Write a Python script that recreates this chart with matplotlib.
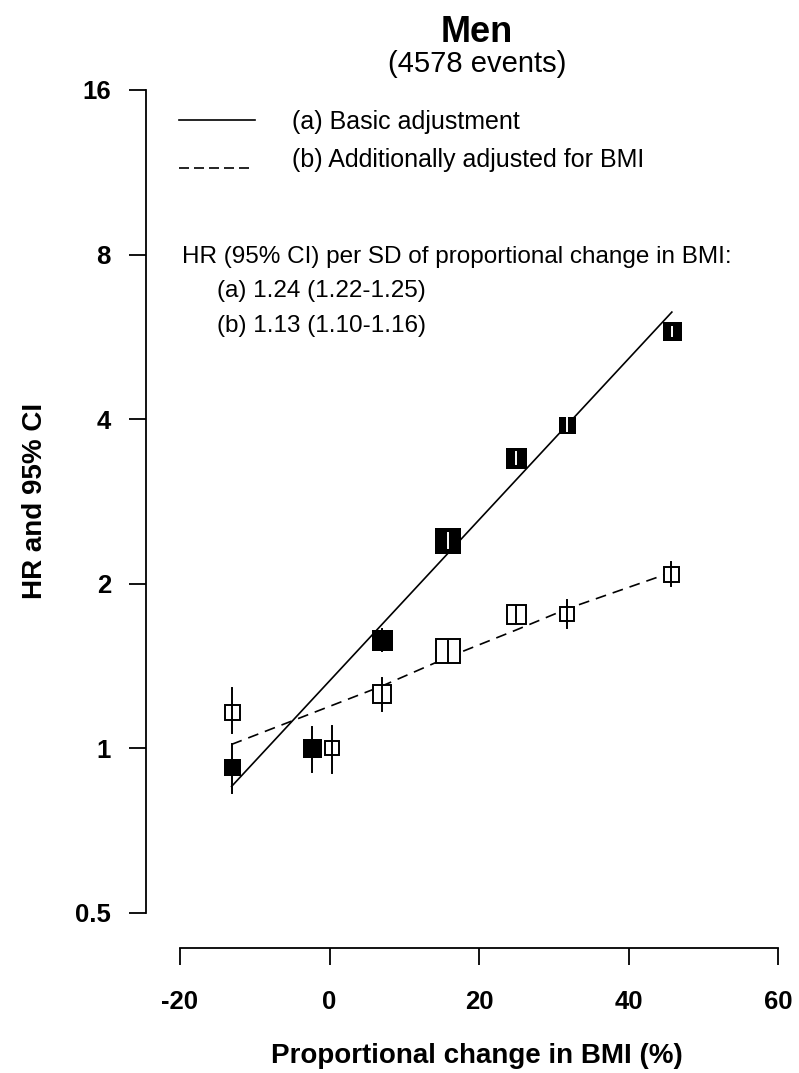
import matplotlib
matplotlib.use("Agg")
import matplotlib.pyplot as plt
import numpy as np

plt.rcParams['font.family'] = ['Liberation Sans', 'DejaVu Sans']
plt.rcParams['axes.unicode_minus'] = False

# ---- data ----
x_a = [-13.1, -2.3, 7.0, 15.8, 24.9, 31.8, 45.8]
hr_a = [0.923, 1.0, 1.58, 2.39, 3.39, 3.90, 5.80]
lo_a = [0.83, 0.904, 1.51, 2.33, 3.31, 3.80, 5.67]
hi_a = [1.02, 1.093, 1.65, 2.48, 3.48, 4.02, 5.89]
size_a = [17, 19, 21, 27, 21, 17, 19]   # box width (px)

x_b = [-13.1, 0.3, 7.0, 15.8, 24.9, 31.8, 45.7]
hr_b = [1.168, 1.0, 1.255, 1.505, 1.76, 1.76, 2.08]
lo_b = [1.065, 0.90, 1.169, 1.44, 1.70, 1.658, 1.98]
hi_b = [1.288, 1.10, 1.343, 1.57, 1.82, 1.866, 2.19]
size_b = [17, 16, 20, 26, 21, 16, 17]

fit_a_x = [-13.1, 45.8]
fit_a_hr = [0.852, 6.28]
fit_b_x = [-13.1, 7.0, 15.8, 24.9, 31.8, 45.8]
fit_b_hr = [1.017, 1.30, 1.467, 1.645, 1.80, 2.10]

yticks = [0.5, 1, 2, 4, 8, 16]
ytick_labels = ["0.5", "1", "2", "4", "8", "16"]
xticks = [-20, 0, 20, 40, 60]
xtick_labels = ["-20", "0", "20", "40", "60"]

W, H, DPI = 799, 1073, 100
fig = plt.figure(figsize=(W / DPI, H / DPI), dpi=DPI)
px2pt = 72.0 / DPI

def fx(px):
    return px / W

def fy(py):
    return 1 - py / H

ax = fig.add_axes([fx(180), fy(913), (778 - 180) / W, (913 - 90) / H])
ax.set_yscale('log', base=2)
ax.set_xlim(-20, 60)
ax.set_ylim(0.5, 16)
for s in ['top', 'right']:
    ax.spines[s].set_visible(False)
ax.spines['left'].set_position(('outward', 34 * px2pt))
ax.spines['bottom'].set_position(('outward', 35 * px2pt))
for s in ['left', 'bottom']:
    ax.spines[s].set_linewidth(1.3)
ax.set_yticks(yticks)
ax.set_yticklabels(ytick_labels)
ax.yaxis.set_minor_locator(matplotlib.ticker.NullLocator())
ax.set_xticks(xticks)
ax.set_xticklabels(xtick_labels)
ax.tick_params(axis='both', length=17 * px2pt, width=1.3, labelsize=18.5)
ax.tick_params(axis='y', pad=13)
ax.tick_params(axis='x', pad=18)
for lab in ax.get_xticklabels() + ax.get_yticklabels():
    lab.set_fontweight('bold')
ax.patch.set_visible(False)

# fitted lines
ax.plot(fit_a_x, fit_a_hr, color='black', lw=1.2, zorder=2)
ax.plot(fit_b_x, fit_b_hr, color='black', lw=1.2, ls=(0, (6.5, 4.2)), zorder=2)

fig.canvas.draw()

def box_half(x, y, size_px):
    cx, cy = ax.transData.transform((x, y))
    inv = ax.transData.inverted()
    _, top = inv.transform((cx, cy + size_px / 2))
    _, bot = inv.transform((cx, cy - size_px / 2))
    return bot, top

# series a: filled squares
for x, y, lo, hi, s in zip(x_a, hr_a, lo_a, hi_a, size_a):
    bot, top = box_half(x, y, s)
    ax.plot([x, x], [lo, hi], color='black', lw=1.4, zorder=3)
    ax.plot([x], [y], marker='s', ms=s * px2pt, mfc='black', mec='black',
            mew=0, ls='none', zorder=4)
    if lo >= bot and hi <= top:
        ax.plot([x, x], [lo, hi], color='white', lw=1.4, zorder=5)

# series b: open squares
for x, y, lo, hi, s in zip(x_b, hr_b, lo_b, hi_b, size_b):
    ax.plot([x], [y], marker='s', ms=(s - 2) * px2pt, mfc='white', mec='black',
            mew=1.4, ls='none', zorder=4)
    ax.plot([x, x], [lo, hi], color='black', lw=1.4, zorder=5)

# titles
fig.text(fx(477), fy(42), "Men", ha='center', va='baseline', fontsize=26,
         fontweight='bold')
fig.text(fx(477), fy(72), "(4578 events)", ha='center', va='baseline',
         fontsize=21)

# axis labels
fig.text(fx(477), fy(1063), "Proportional change in BMI (%)", ha='center',
         va='baseline', fontsize=20, fontweight='bold')
fig.text(fx(42), fy(501), "HR and 95% CI", ha='center', va='baseline',
         rotation=90, rotation_mode='anchor', fontsize=20, fontweight='bold')

# legend
fig.lines.append(plt.Line2D([fx(179), fx(255)], [fy(120), fy(120)],
                            transform=fig.transFigure, color='black', lw=1.2))
fig.lines.append(plt.Line2D([fx(179), fx(250)], [fy(168), fy(168)],
                            transform=fig.transFigure, color='black', lw=1.2,
                            ls=(0, (6, 3))))
fig.text(fx(292), fy(129), "(a) Basic adjustment", ha='left', va='baseline',
         fontsize=18)
fig.text(fx(292), fy(167), "(b) Additionally adjusted for BMI", ha='left',
         va='baseline', fontsize=18)

fig.text(fx(182), fy(263), "HR (95% CI) per SD of proportional change in BMI:",
         ha='left', va='baseline', fontsize=17.5)
fig.text(fx(217), fy(297), "(a) 1.24 (1.22-1.25)", ha='left', va='baseline',
         fontsize=17.5)
fig.text(fx(217), fy(332), "(b) 1.13 (1.10-1.16)", ha='left', va='baseline',
         fontsize=17.5)

fig.savefig("out.png", dpi=DPI)
